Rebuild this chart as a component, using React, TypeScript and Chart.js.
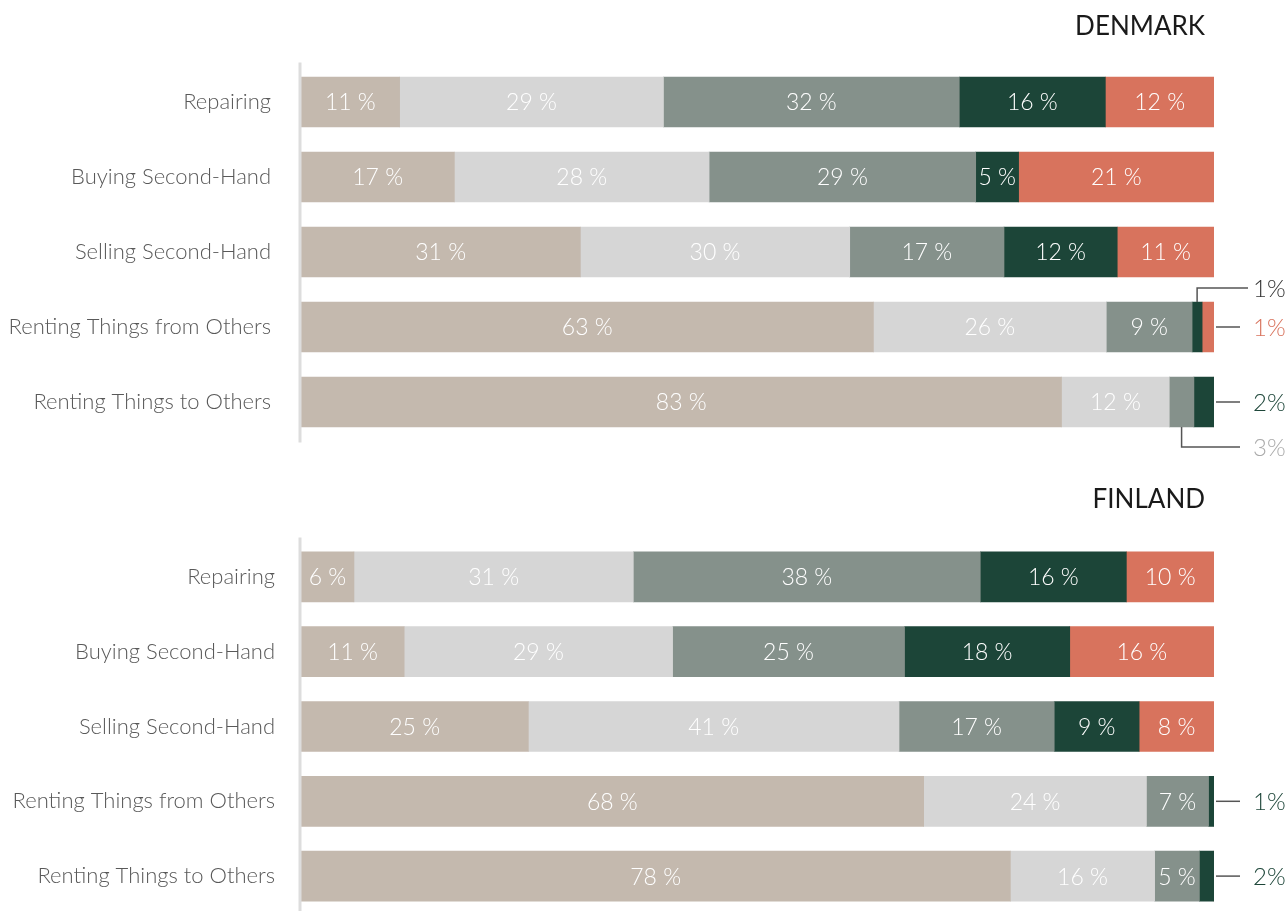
import React, { useEffect, useRef } from "react";
import { Chart, registerables } from "chart.js";

Chart.register(...registerables);

const categories = [
  "Repairing",
  "Buying Second-Hand",
  "Selling Second-Hand",
  "Renting Things from Others",
  "Renting Things to Others",
];

const seriesNames = ["Share 1", "Share 2", "Share 3", "Share 4", "Share 5"];
const seriesColors = ["#C4B9AE", "#D6D6D6", "#85918B", "#1C4538", "#D8735D"];

// Denmark (percent shares per category)
const denmarkShare1 = [10.8, 16.8, 30.6, 62.7, 83.3];
const denmarkShare2 = [28.9, 27.9, 29.5, 25.5, 11.8];
const denmarkShare3 = [32.4, 29.2, 16.9, 9.4, 2.7];
const denmarkShare4 = [16.0, 4.7, 12.4, 1.1, 2.2];
const denmarkShare5 = [11.9, 21.4, 10.6, 1.3, 0];

// Finland
const finlandShare1 = [5.8, 11.3, 24.9, 68.2, 77.7];
const finlandShare2 = [30.6, 29.4, 40.6, 24.4, 15.8];
const finlandShare3 = [38.0, 25.4, 17.0, 6.8, 4.9];
const finlandShare4 = [16.0, 18.1, 9.3, 0.6, 1.6];
const finlandShare5 = [9.6, 15.8, 8.2, 0, 0];

const FONT = "Lato, 'Open Sans', sans-serif";

type Callout = {
  ds: number;
  idx: number;
  kind: "top" | "right" | "bottom";
  color: string;
  lineEnd: number; // offset from chartArea.right
};

const denmarkCallouts: Callout[] = [
  { ds: 3, idx: 3, kind: "top", color: "#333333", lineEnd: 34 },
  { ds: 4, idx: 3, kind: "right", color: "#D8735D", lineEnd: 26 },
  { ds: 3, idx: 4, kind: "right", color: "#1C4538", lineEnd: 26 },
  { ds: 2, idx: 4, kind: "bottom", color: "#AAAAAA", lineEnd: 26 },
];

const finlandCallouts: Callout[] = [
  { ds: 3, idx: 3, kind: "right", color: "#1C4538", lineEnd: 26 },
  { ds: 3, idx: 4, kind: "right", color: "#1C4538", lineEnd: 26 },
];

const LABEL_MIN = 4.5;

const overlayPlugin = {
  id: "overlay",
  afterDatasetsDraw(chart: any) {
    const ctx = chart.ctx;
    const area = chart.chartArea;
    const opts = chart.options.plugins.overlay;
    // data labels
    ctx.save();
    ctx.font = `300 23px ${FONT}`;
    ctx.fillStyle = "#FFFFFF";
    ctx.textAlign = "center";
    ctx.textBaseline = "middle";
    chart.data.datasets.forEach((ds: any, di: number) => {
      const meta = chart.getDatasetMeta(di);
      meta.data.forEach((el: any, i: number) => {
        const v = ds.data[i];
        if (v >= LABEL_MIN) {
          const p = el.getProps(["x", "y", "base"], true);
          ctx.fillText(`${Math.round(v)} %`, (p.x + p.base) / 2, p.y + 1);
        }
      });
    });
    ctx.restore();

    // callouts
    ctx.save();
    ctx.strokeStyle = "#555555";
    ctx.lineWidth = 1.5;
    ctx.font = `300 24px ${FONT}`;
    ctx.textAlign = "left";
    ctx.textBaseline = "middle";
    (opts.callouts as Callout[]).forEach((c) => {
      const el = chart.getDatasetMeta(c.ds).data[c.idx];
      const p = el.getProps(["x", "y", "base", "height"], true);
      const v = chart.data.datasets[c.ds].data[c.idx];
      const endX = area.right + c.lineEnd;
      const cx = (p.x + p.base) / 2;
      const top = p.y - p.height / 2;
      const bottom = p.y + p.height / 2;
      let ly = p.y;
      ctx.beginPath();
      if (c.kind === "top") {
        ly = top - 14;
        ctx.moveTo(cx, top);
        ctx.lineTo(cx, ly);
        ctx.lineTo(endX, ly);
      } else if (c.kind === "bottom") {
        ly = bottom + 20;
        ctx.moveTo(cx, bottom);
        ctx.lineTo(cx, ly);
        ctx.lineTo(endX, ly);
      } else {
        ctx.moveTo(area.right + 2, ly);
        ctx.lineTo(endX, ly);
      }
      ctx.stroke();
      ctx.fillStyle = c.color;
      ctx.fillText(`${Math.round(v)}%`, area.right + 39, ly + 1);
    });
    ctx.restore();

    // axis line
    ctx.save();
    ctx.strokeStyle = "#DDDDDD";
    ctx.lineWidth = 3;
    ctx.beginPath();
    ctx.moveTo(area.left - 1, area.top - 2);
    ctx.lineTo(area.left - 1, area.bottom + 3);
    ctx.stroke();
    ctx.restore();

    // title
    ctx.save();
    ctx.font = `400 26px ${FONT}`;
    ctx.fillStyle = "#1A1A1A";
    ctx.textAlign = "right";
    ctx.textBaseline = "middle";
    ctx.fillText(opts.title, area.right - 9, opts.titleY);
    ctx.restore();
  },
};

function makeConfig(
  series: number[][],
  title: string,
  titleY: number,
  callouts: Callout[],
  padBottom: number,
  tickPad: number
): any {
  return {
    type: "bar",
    data: {
      labels: categories,
      datasets: series.map((d, i) => ({
        label: seriesNames[i],
        data: d,
        backgroundColor: seriesColors[i],
        borderWidth: 0,
        barThickness: 50,
      })),
    },
    options: {
      indexAxis: "y",
      responsive: false,
      animation: false,
      maintainAspectRatio: false,
      layout: { padding: { top: 64.5, bottom: padBottom, left: 0, right: 74 } },
      scales: {
        x: { stacked: true, min: 0, max: 100, display: false },
        y: {
          stacked: true,
          grid: { display: false, drawTicks: false },
          border: { display: false },
          ticks: {
            padding: tickPad,
            color: "#595959",
            font: { family: FONT, size: 22, weight: "300" },
          },
          afterFit: (scale: any) => {
            scale.width = 301;
            scale.paddingTop = 0;
            scale.paddingBottom = 0;
          },
        },
      },
      plugins: {
        legend: { display: false },
        tooltip: { enabled: false },
        title: { display: false },
        overlay: { title, titleY, callouts },
      },
    },
    plugins: [overlayPlugin],
  };
}

function Panel(props: {
  series: number[][];
  title: string;
  titleY: number;
  callouts: Callout[];
  top: number;
  height: number;
  padBottom: number;
  tickPad: number;
}) {
  const ref = useRef<HTMLCanvasElement>(null);
  useEffect(() => {
    if (!ref.current) return;
    const chart = new Chart(
      ref.current,
      makeConfig(props.series, props.title, props.titleY, props.callouts, props.padBottom, props.tickPad)
    );
    return () => chart.destroy();
  }, []);
  return (
    <div style={{ position: "absolute", left: 0, top: props.top, width: 1288, height: props.height }}>
      <canvas ref={ref} width={1288} height={props.height} style={{ display: "block" }} />
    </div>
  );
}

export default function App() {
  return (
    <div
      style={{
        position: "fixed",
        left: 0,
        top: 0,
        width: 1288,
        height: 911,
        overflow: "hidden",
        background: "#FFFFFF",
      }}
    >
      <Panel
        series={[denmarkShare1, denmarkShare2, denmarkShare3, denmarkShare4, denmarkShare5]}
        title="DENMARK"
        titleY={27}
        callouts={denmarkCallouts}
        top={0}
        height={475}
        padBottom={35.5}
        tickPad={30}
      />
      <Panel
        series={[finlandShare1, finlandShare2, finlandShare3, finlandShare4, finlandShare5]}
        title="FINLAND"
        titleY={25}
        callouts={finlandCallouts}
        top={475}
        height={440}
        padBottom={1.5}
        tickPad={26}
      />
    </div>
  );
}
